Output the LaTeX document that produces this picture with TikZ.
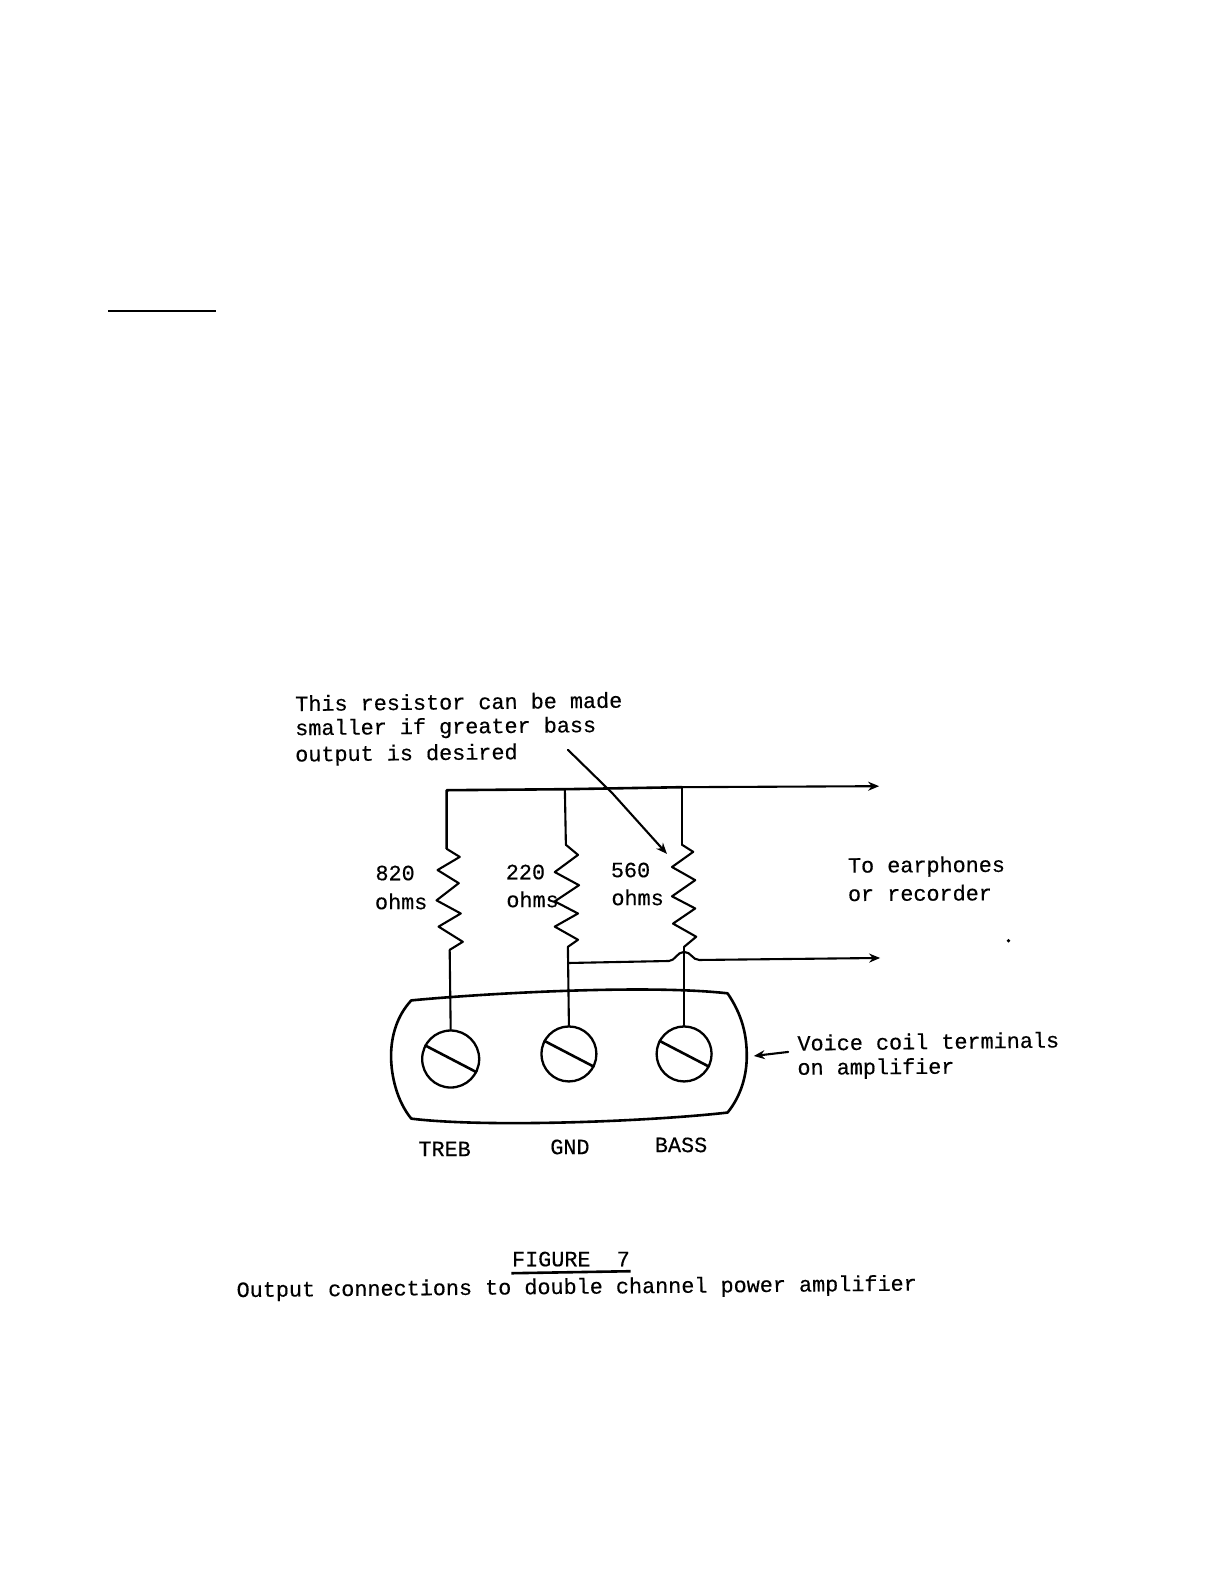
\documentclass[tikz,border=0pt]{standalone}
\usepackage{fontspec}
\setmainfont{Liberation Mono}
\newfontfamily\twfont{Liberation Mono}[FakeBold=0.35]
\usetikzlibrary{arrows.meta}
\tikzset{
  wire/.style={line width=2.1pt,black,line join=round,line cap=round},
  thick wire/.style={line width=2.6pt,black,line join=round},
  tiparrow/.style={-{Stealth[length=11pt,width=9pt]}},
  screw/.style={circle,draw,line width=2.3pt,minimum size=57pt,inner sep=0pt},
  slot/.style={line width=2.6pt},
  tw/.style={font=\twfont\fontsize{21.8}{24}\selectfont,inner sep=0pt,text=black},
  twl/.style={tw,anchor=west},
}
\begin{document}
\begin{tikzpicture}[x=1pt,y=-1pt]
\useasboundingbox (0,0) rectangle (1224,1584);
\fill[white] (0,0) rectangle (1224,1584);
\begin{scope}[x=1.0105pt,y=-1.0105pt]
% stray marks of the page
\coordinate (ruleA) at (107,308); \coordinate (ruleB) at (214,308);
\draw[line width=1.8pt] (ruleA) -- (ruleB);
\fill (998,931) circle (1.8pt);
% note
\node[twl,rotate=0.6] (n1) at (292,696) {This resistor can be made};
\node[twl,rotate=0.6] (n2) at (292,722) {smaller if greater bass};
\node[twl,rotate=0.6] (n3) at (292,748) {output is desired};
\coordinate (noteA) at (562,742); \coordinate (noteB) at (606,785); \coordinate (noteC) at (660,845);
\draw[wire,tiparrow] (noteA) -- (noteB) -- (noteC);
% top wire
\coordinate (topL) at (442,782); \coordinate (topM) at (559,781); \coordinate (topR) at (675,779); \coordinate (topE) at (870,778);
\draw[thick wire] (442,840) -- (topL) -- (topM) -- (topR);
\draw[wire,tiparrow] (topR) -- (topE);
\draw[wire] (topM) -- (560,836);
\draw[wire] (topR) -- (675,836);
% resistors
\draw[wire] (442,840) -- (455,848) -- (433,861) -- (454,874) -- (432,891) -- (456,904) -- (434,917) -- (458,932) -- (445,940) coordinate (r1b);
\draw[wire] (560,836) -- (572,846) -- (549,863) -- (573,876) -- (549,892) -- (572,904) -- (549,917) -- (572,930) -- (562,937) coordinate (r2b);
\draw[wire] (675,836) -- (686,843) -- (665,858) -- (688,871) -- (665,887) -- (688,899) -- (666,914) -- (689,927) -- (677,937) coordinate (r3b);
% plate
\draw[line width=2.6pt,line join=round] (407,990) .. controls (480,983) and (640,974) .. (720,983)
  .. controls (735,1005) and (739,1025) .. (739,1045)
  .. controls (739,1065) and (733,1085) .. (720,1101)
  .. controls (640,1110) and (480,1116) .. (407,1107)
  .. controls (393,1090) and (387,1065) .. (387,1045)
  .. controls (387,1025) and (393,1005) .. (407,990) -- cycle;
% screws
\node[screw] (s1) at (446,1048) {};
\node[screw,minimum size=55pt] (s2) at (563,1043) {};
\node[screw,minimum size=55pt] (s3) at (677,1043) {};
\draw[slot] (s1.152) -- (s1.-27);
\draw[slot] (s2.152) -- (s2.-27);
\draw[slot] (s3.152) -- (s3.-27);
\draw[wire] (r1b) -- (s1.north);
\draw[wire] (r2b) -- (s2.north);
\draw[wire] (r3b) -- (s3.north);
% lower wire with hump
\coordinate (lowL) at (562,953); \coordinate (lowE) at (871,948);
\draw[wire,tiparrow] (lowL) -- (662,951) .. controls (668,951) and (670,942) .. (677,942) .. controls (684,942) and (685,950) .. (692,950) -- (lowE);
% resistor labels
\node[tw] (v1) at (391,864) {820};
\node[tw] (o1) at (397,892) {ohms};
\node[tw] (v2) at (520,863) {220};
\node[tw] (o2) at (527,890) {ohms};
\node[tw] (v3) at (624,861) {560};
\node[tw] (o3) at (631,888) {ohms};
% right labels
\node[twl,rotate=0.3] (e1) at (839,858) {To earphones};
\node[twl,rotate=0.3] (e2) at (839,884) {or recorder};
\node[twl,rotate=0.7] (c1) at (789,1032) {Voice coil terminals};
\node[twl,rotate=0.4] (c2) at (789,1058) {on amplifier};
\coordinate (vcA) at (780,1041);
\draw[wire,tiparrow] (vcA) -- (746,1045);
% terminal names
\node[tw] (t1) at (440,1137) {TREB};
\node[tw] (t2) at (564,1135) {GND};
\node[tw] (t3) at (674,1133) {BASS};
% caption
\node[tw] (f1) at (565,1246) {FIGURE\ \ 7};
\coordinate (ulA) at (506,1260); \coordinate (ulB) at (624,1258);
\draw[line width=2.6pt] (ulA) -- (ulB);
\node[twl,rotate=0.55] (f2) at (234,1278) {Output connections to double channel power amplifier};
\end{scope}
\end{tikzpicture}
\end{document}
